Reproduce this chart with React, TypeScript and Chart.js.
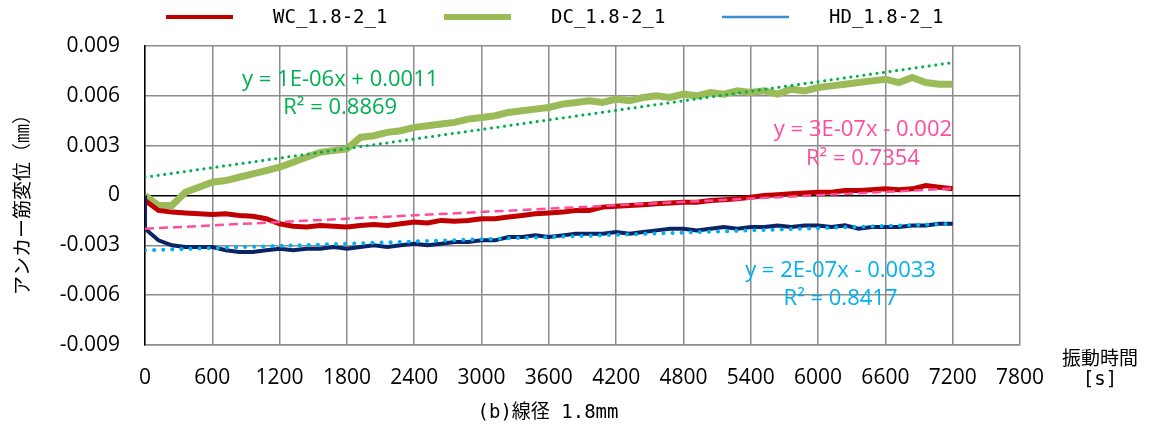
import { useEffect, useRef } from "react";
import { Chart, registerables } from "chart.js";

Chart.register(...registerables);

// ---- data ----
const TIME = [
  0, 120, 240, 360, 480, 600, 720, 840, 960, 1080,
  1200, 1320, 1440, 1560, 1680, 1800, 1920, 2040, 2160, 2280,
  2400, 2520, 2640, 2760, 2880, 3000, 3120, 3240, 3360, 3480,
  3600, 3720, 3840, 3960, 4080, 4200, 4320, 4440, 4560, 4680,
  4800, 4920, 5040, 5160, 5280, 5400, 5520, 5640, 5760, 5880,
  6000, 6120, 6240, 6360, 6480, 6600, 6720, 6840, 6960, 7080, 7200,
];

const WC = [
  -0.0003, -0.0009, -0.001, -0.00105, -0.0011, -0.00115, -0.0011, -0.0012, -0.00125, -0.0014,
  -0.0017, -0.00185, -0.0019, -0.0018, -0.00185, -0.0019, -0.0018, -0.00175, -0.0018, -0.0017,
  -0.0016, -0.00165, -0.0015, -0.00155, -0.0015, -0.0014, -0.0014, -0.0013, -0.0012, -0.0011,
  -0.00105, -0.001, -0.0009, -0.0009, -0.0007, -0.00065, -0.0006, -0.00055, -0.0005, -0.00045,
  -0.0004, -0.0004, -0.0003, -0.00025, -0.0002, -0.0001, 0.0, 0.00005, 0.0001, 0.00015,
  0.0002, 0.0002, 0.0003, 0.0003, 0.00035, 0.0004, 0.00035, 0.0004, 0.0006, 0.0005, 0.0004,
];

const DC = [
  0.0, -0.0006, -0.0006, 0.0002, 0.0005, 0.0008, 0.0009, 0.0011, 0.0013, 0.0015,
  0.0017, 0.002, 0.0023, 0.0026, 0.0027, 0.0028, 0.0035, 0.0036, 0.0038, 0.0039,
  0.0041, 0.0042, 0.0043, 0.0044, 0.0046, 0.0047, 0.0048, 0.005, 0.0051, 0.0052,
  0.0053, 0.0055, 0.0056, 0.0057, 0.0056, 0.0058, 0.0057, 0.0059, 0.006, 0.0059,
  0.0061, 0.006, 0.0062, 0.0061, 0.0063, 0.0062, 0.0063, 0.0061, 0.0064, 0.0063,
  0.0065, 0.0066, 0.0067, 0.0068, 0.0069, 0.007, 0.0068, 0.0071, 0.0068, 0.0067, 0.0067,
];

const HD_TIME = [0, ...TIME];
const HD = [
  0.0,
  -0.002, -0.0027, -0.003, -0.0031, -0.0031, -0.0031, -0.0033, -0.0034, -0.0034, -0.0033,
  -0.0032, -0.0033, -0.0032, -0.0032, -0.0031, -0.0032, -0.0031, -0.003, -0.0031, -0.003,
  -0.0029, -0.003, -0.0029, -0.0028, -0.0028, -0.0027, -0.0027, -0.0025, -0.0025, -0.0024,
  -0.0025, -0.0024, -0.0023, -0.0023, -0.0023, -0.0022, -0.0023, -0.0022, -0.0021, -0.002,
  -0.002, -0.0021, -0.002, -0.0019, -0.002, -0.0019, -0.0019, -0.0018, -0.0019, -0.0018,
  -0.0018, -0.0019, -0.0018, -0.002, -0.0019, -0.0019, -0.0019, -0.0018, -0.0018, -0.0017, -0.0017,
];

const TREND_X = [0, 7200];
const WC_TREND = [-0.002, 0.00042];
const DC_TREND = [0.0011, 0.008];
const HD_TREND = [-0.0033, -0.0017];

const SERIES_NAMES = ["WC_1.8-2_1", "DC_1.8-2_1", "HD_1.8-2_1"];

const X_TICK_STEP = 600;
const X_MIN = 0;
const X_MAX = 7800;
const Y_TICK_STEP = 0.003;
const Y_MIN = -0.009;
const Y_MAX = 0.009;

const EQUATIONS = [
  { text: "y = 1E-06x + 0.0011", x: 1740, y: 0.00696, color: "#00B050" },
  { text: "R² = 0.8869", x: 1740, y: 0.00528, color: "#00B050" },
  { text: "y = 3E-07x - 0.002", x: 6400, y: 0.00396, color: "#FF4D9E" },
  { text: "R² = 0.7354", x: 6400, y: 0.00222, color: "#FF4D9E" },
  { text: "y = 2E-07x - 0.0033", x: 6200, y: -0.0045, color: "#00B0F0" },
  { text: "R² = 0.8417", x: 6200, y: -0.00624, color: "#00B0F0" },
];

const Y_TITLE = "アンカー筋変位（㎜）";
const X_TITLE_1 = "振動時間";
const X_TITLE_2 = "[s]";
const CAPTION = "(b)線径 1.8mm";

// ---- styles ----
const LEGEND_STYLE = [
  { color: "#C00000", width: 4 },
  { color: "#9BBB59", width: 6 },
  { color: "#3B8ED6", width: 2.5 },
];

const pts = (xs: number[], ys: number[]) => xs.map((x, i) => ({ x, y: ys[i] }));

const overlay = {
  id: "overlay",
  afterDraw(chart: any) {
    const ctx = chart.ctx as CanvasRenderingContext2D;
    const xs = chart.scales.x;
    const ys = chart.scales.y;
    ctx.save();
    // legend
    SERIES_NAMES.forEach((name, i) => {
      const x0 = 166 + i * 278;
      const st = LEGEND_STYLE[i];
      ctx.strokeStyle = st.color;
      ctx.lineWidth = st.width;
      ctx.lineCap = "butt";
      ctx.beginPath();
      ctx.moveTo(x0, 17);
      ctx.lineTo(x0 + 67, 17);
      ctx.stroke();
      ctx.fillStyle = "#000";
      ctx.font = '19px "DejaVu Sans Mono", "Noto Sans CJK JP", monospace';
      ctx.textAlign = "left";
      ctx.textBaseline = "middle";
      ctx.fillText(name, x0 + 107, 18);
    });
    // equations
    ctx.font = '22px "Open Sans", sans-serif';
    ctx.textAlign = "center";
    ctx.textBaseline = "middle";
    EQUATIONS.forEach((eq) => {
      ctx.fillStyle = eq.color;
      ctx.fillText(eq.text, xs.getPixelForValue(eq.x), ys.getPixelForValue(eq.y));
    });
    // x title
    ctx.fillStyle = "#000";
    ctx.font = '19px "Noto Sans CJK JP", sans-serif';
    ctx.fillText(X_TITLE_1, 1100, 358);
    ctx.font = '19px "DejaVu Sans Mono", monospace';
    ctx.fillText(X_TITLE_2, 1100, 380);
    // caption
    ctx.font = '19px "DejaVu Sans Mono", "Noto Sans CJK JP", monospace';
    ctx.fillText(CAPTION, 548, 413);
    // y title
    ctx.translate(22, 200);
    ctx.rotate(-Math.PI / 2);
    ctx.font = '19px "Noto Sans CJK JP", sans-serif';
    ctx.fillText(Y_TITLE, 0, 0);
    ctx.restore();
  },
};

export default function App() {
  const ref = useRef<HTMLCanvasElement>(null);
  useEffect(() => {
    if (!ref.current) return;
    const chart = new Chart(ref.current, {
      type: "line",
      data: {
        datasets: [
          {
            label: "DC trend",
            data: pts(TREND_X, DC_TREND),
            borderColor: "#00B050",
            borderWidth: 3,
            borderDash: [0.1, 6.5],
            borderCapStyle: "round",
            pointRadius: 0,
            order: 0,
          },
          {
            label: "WC trend",
            data: pts(TREND_X, WC_TREND),
            borderColor: "#FF4D9E",
            borderWidth: 2.5,
            borderDash: [9, 5],
            pointRadius: 0,
            order: 0,
          },
          {
            label: "HD trend",
            data: pts(TREND_X, HD_TREND),
            borderColor: "#00B0F0",
            borderWidth: 4,
            borderDash: [0.1, 9],
            borderCapStyle: "round",
            pointRadius: 0,
            order: 0,
          },
          {
            label: SERIES_NAMES[2],
            data: pts(HD_TIME, HD),
            borderColor: "#0A2466",
            borderWidth: 4,
            pointRadius: 0,
            order: 1,
          },
          {
            label: SERIES_NAMES[0],
            data: pts(TIME, WC),
            borderColor: "#C00000",
            borderWidth: 5,
            pointRadius: 0,
            order: 2,
          },
          {
            label: SERIES_NAMES[1],
            data: pts(TIME, DC),
            borderColor: "#9BBB59",
            borderWidth: 7,
            pointRadius: 0,
            order: 3,
          },
        ],
      },
      options: {
        responsive: false,
        animation: false,
        layout: { padding: { top: 46, right: 130, bottom: 0, left: 0 } },
        plugins: { legend: { display: false }, tooltip: { enabled: false } },
        scales: {
          x: {
            type: "linear",
            min: X_MIN,
            max: X_MAX,
            afterFit: (s: any) => {
              s.height = 87;
            },
            ticks: {
              stepSize: X_TICK_STEP,
              padding: 20,
              color: "#000",
              font: { family: '"Open Sans", sans-serif', size: 21 },
              maxRotation: 0,
              autoSkip: false,
              callback: (v: any) => String(Math.round(Number(v))),
            },
            grid: { color: "#8C8C8C", lineWidth: 1.5, drawTicks: false },
            border: { color: "#8C8C8C", width: 1.5 },
          },
          y: {
            type: "linear",
            min: Y_MIN,
            max: Y_MAX,
            afterFit: (s: any) => {
              s.width = 145;
            },
            ticks: {
              stepSize: Y_TICK_STEP,
              padding: 25,
              color: "#000",
              font: { family: '"Open Sans", sans-serif', size: 21 },
              callback: (v: any) => {
                const r = Math.round(Number(v) * 1000) / 1000;
                return r === 0 ? "0" : r.toFixed(3);
              },
            },
            grid: {
              color: (c: any) => (c.tick && Math.abs(c.tick.value) < 1e-9 ? "#000" : "#8C8C8C"),
              lineWidth: 1.5,
              drawTicks: false,
            },
            border: { color: "#000", width: 1.5 },
          },
        },
      },
      plugins: [overlay],
    } as any);
    return () => chart.destroy();
  }, []);
  return (
    <div style={{ position: "absolute", left: 0, top: 0, width: 1150, height: 432, background: "#fff" }}>
      <canvas ref={ref} width={1150} height={432} />
    </div>
  );
}
